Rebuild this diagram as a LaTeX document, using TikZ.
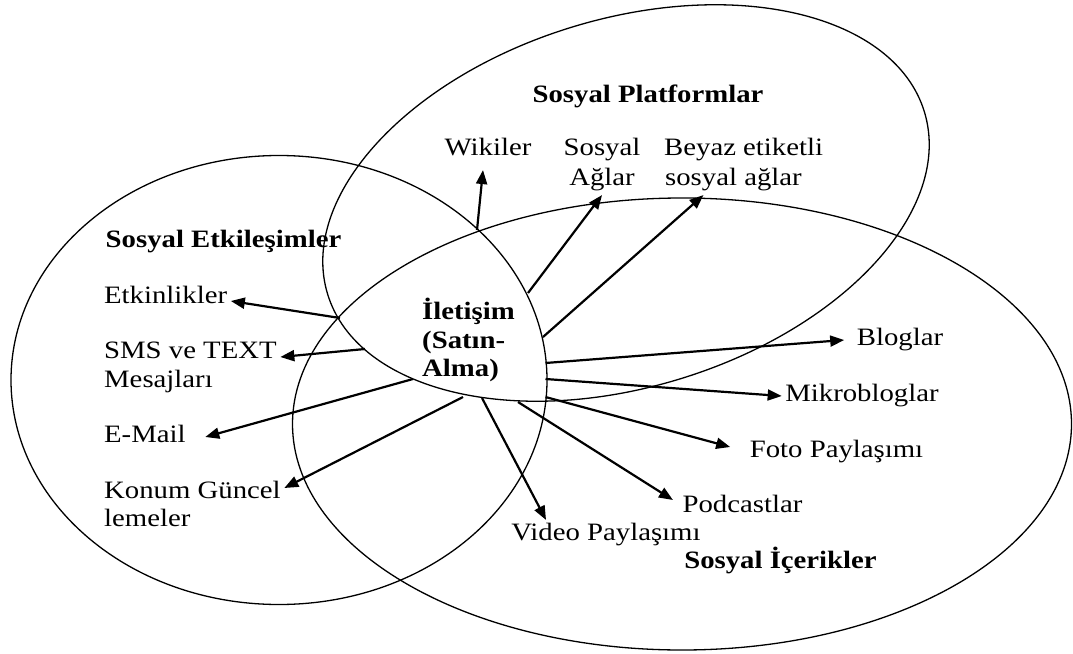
\documentclass[tikz,border=0pt]{standalone}
\usepackage{fontspec}
\setmainfont{Liberation Serif}
\usetikzlibrary{arrows.meta, calc}

\tikzset{
  lbl/.style={font=\fontsize{25}{30}\selectfont, xscale=1.15, inner sep=3pt,
    text height=17.5pt, text depth=6.25pt},
  boldlbl/.style={lbl, font=\fontsize{25}{30}\selectfont\bfseries},
  arr/.style={line width=2.2pt, -{Triangle[length=14pt,width=11pt]}},
  venn/.style={line width=1.3pt}
}

\begin{document}
\begin{tikzpicture}[x=1pt, y=-1pt]
\useasboundingbox (0,0) rectangle (1073,653);
% Sets
\draw[venn, rotate around={17:(626,203)}] (626,203) ellipse [x radius=312pt, y radius=184pt];
\draw[venn] (279,380) ellipse [x radius=268pt, y radius=224.5pt];
\draw[venn] (682,424) ellipse [x radius=389.5pt, y radius=226pt];
% Set titles
\node[boldlbl] (plat) at (648,97) {Sosyal Platformlar};
\node[boldlbl] (etkl) at (223.5,242) {Sosyal Etkileşimler};
\node[boldlbl] (icer) at (780.5,563) {Sosyal İçerikler};
% Centre
\node[font=\fontsize{25}{28.5}\selectfont\bfseries, xscale=1.15, align=left, inner sep=0pt]
  (ilet) at (468.5,340) {İletişim\\(Satın-\\Alma)};
% Platforms
\node[lbl] (wiki) at (488,150) {Wikiler};
\node[lbl] (sos) at (602,150) {Sosyal};
\node[lbl] (agl) at (602,180) {Ağlar};
\node[lbl, anchor=west] (beyaz) at (660.5,150) {Beyaz etiketli};
\node[lbl, anchor=west] (sag) at (661.5,180) {sosyal ağlar};
% Interactions
\node[lbl, anchor=west] (etk) at (100.5,298) {Etkinlikler};
\node[lbl, anchor=west] (sms) at (100.5,353) {SMS ve TEXT};
\node[lbl, anchor=west] (mes) at (100.5,382) {Mesajları};
\node[lbl, anchor=west] (mail) at (100.5,437) {E-Mail};
\node[lbl, anchor=west] (kon) at (100.5,493) {Konum Güncel};
\node[lbl, anchor=west] (lem) at (100.5,521) {lemeler};
% Contents
\node[lbl] (blog) at (900,340) {Bloglar};
\node[lbl] (mik) at (862,396) {Mikrobloglar};
\node[lbl] (foto) at (836.5,452) {Foto Paylaşımı};
\node[lbl] (pod) at (742.5,507) {Podcastlar};
\node[lbl] (vid) at (606,535) {Video Paylaşımı};
% Arrow starts on the centre region
\coordinate (sWiki) at (477,230);
\coordinate (sAgl) at (528,293);
\coordinate (sBeyaz) at (543,337);
\coordinate (sBlog) at (545.5,363);
\coordinate (sMik) at (545.5,379);
\coordinate (sFoto) at (545.5,397);
\coordinate (sPod) at (518,402);
\coordinate (sVid) at (482,398);
\coordinate (sKon) at (463,397);
\coordinate (sMail) at (413,379);
\coordinate (sSms) at (365,349);
\coordinate (sEtk) at (340,318);
% Arrows
\draw[arr] (sWiki) -- ([xshift=-5pt,yshift=-5pt]wiki.south);
\draw[arr] (sAgl) -- (agl.south);
\draw[arr] (sBeyaz) -- ([xshift=-30pt]sag.south);
\draw[arr] (sBlog) -- ([xshift=-9pt]blog.west);
\draw[arr] (sMik) -- (mik.west);
\draw[arr] (sFoto) -- ([xshift=-16pt,yshift=5pt]foto.west);
\draw[arr] (sPod) -- ([xshift=-6pt,yshift=7pt]pod.west);
\draw[arr] (sVid) -- ([xshift=-60pt]vid.north);
\draw[arr] (sKon) -- ([yshift=5pt]kon.east);
\draw[arr] (sMail) -- ([xshift=16pt]mail.east);
\draw[arr] (sSms) -- ([yshift=-4pt]sms.east);
\draw[arr] (sEtk) -- ([yshift=-3pt]etk.east);
\end{tikzpicture}
\end{document}
